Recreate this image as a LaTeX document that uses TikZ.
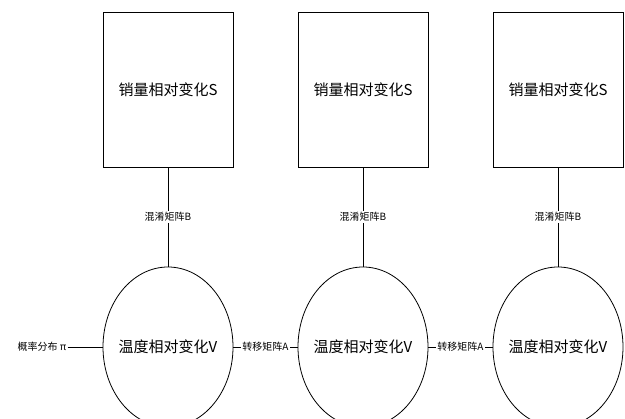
\documentclass[tikz,border=0pt]{standalone}
\usepackage{fontspec}
\newfontfamily\cjk{Noto Sans CJK SC}
\usetikzlibrary{shapes.geometric}
\begin{document}
\begin{tikzpicture}[x=1pt,y=-1pt,
  sbox/.style={draw,line width=0.8pt,minimum width=130pt,minimum height=155pt,inner sep=0pt,font=\cjk\fontsize{15}{17}\selectfont},
  vell/.style={draw,line width=0.8pt,ellipse,minimum width=130pt,minimum height=160pt,inner sep=0pt},
  vtxt/.style={inner sep=0pt,font=\cjk\fontsize{15}{17}\selectfont},
  lbl/.style={fill=white,inner sep=1pt,font=\cjk\fontsize{10}{12}\selectfont},
  conn/.style={line width=0.8pt}]
\clip (0,0) rectangle (625,419);
\fill[white] (0,0) rectangle (625,419);
\foreach \i/\x in {1/168,2/363,3/558}{
  \node[sbox] (s\i) at (\x,89.5) {销量相对变化S};
  \node[vell] (v\i) at (\x,347) {};
  \node[vtxt] (vt\i) at (v\i.center) {温度相对变化V};
  \draw[conn] (s\i.south) -- node[lbl] {混淆矩阵B} (v\i.north);
}
\draw[conn] (v1.east) -- node[lbl] {转移矩阵A} (v2.west);
\draw[conn] (v2.east) -- node[lbl] {转移矩阵A} (v3.west);
\node[font=\cjk\fontsize{10}{12}\selectfont,inner sep=1pt] (pi) at (42,347) {概率分布 π};
\draw[conn] (pi.east) -- (v1.west);
\end{tikzpicture}
\end{document}
